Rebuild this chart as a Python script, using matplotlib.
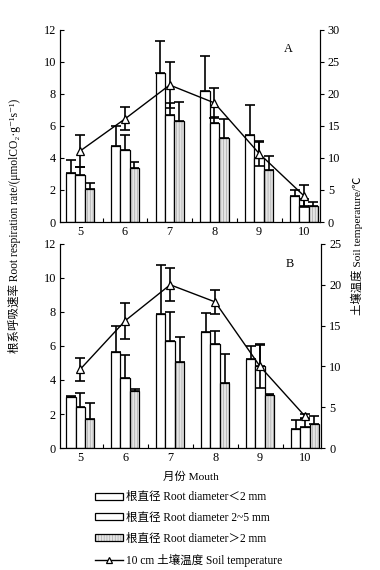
import numpy as np
import matplotlib
matplotlib.use("Agg")
import matplotlib.pyplot as plt
from matplotlib.patches import Patch
from matplotlib.lines import Line2D

plt.rcParams['font.family'] = ['Liberation Serif', 'Noto Sans CJK SC', 'DejaVu Serif']
plt.rcParams['hatch.linewidth'] = 0.5

""" data read off the figure """
months = ['5', '6', '7', '8', '9', '10']

# panel A
a_d1 = [3.05, 4.72, 9.29, 8.18, 5.45, 1.62]
a_d1_err = [0.85, 1.25, 2.0, 2.2, 1.85, 0.37]
a_d2 = [2.92, 4.52, 6.67, 6.2, 4.0, 1.03]
a_d2_err = [0.53, 0.9, 0.78, 0.35, 1.0, 0.4]
a_d3 = [2.05, 3.4, 6.3, 5.24, 3.26, 1.03]
a_d3_err = [0.37, 0.33, 1.17, 1.18, 0.88, 0.24]
a_temp = [11.1, 16.1, 21.4, 18.6, 10.7, 4.1]
a_temp_err = [2.5, 1.8, 3.6, 2.3, 2.0, 1.7]

# panel B
b_d1 = [2.98, 5.67, 7.89, 6.8, 5.21, 1.14]
b_d1_err = [0.1, 1.48, 2.87, 1.13, 0.8, 0.49]
b_d2 = [2.44, 4.09, 6.3, 6.1, 4.8, 1.24]
b_d2_err = [0.78, 1.37, 1.67, 0.76, 1.3, 0.5]
b_d3 = [1.72, 3.37, 5.07, 3.8, 3.11, 1.44]
b_d3_err = [0.91, 0.1, 1.46, 1.72, 0.09, 0.45]
b_temp = [9.65, 15.6, 20.0, 17.9, 10.0, 3.9]
b_temp_err = [1.4, 2.2, 2.0, 1.5, 2.6, 0.3]

labels = ['根直径 Root diameter＜2 mm',
          '根直径 Root diameter 2~5 mm',
          '根直径 Root diameter＞2 mm',
          '10 cm 土壤温度 Soil temperature']

FS = 8.8
W = 0.21
x = np.arange(len(months))
ERR = dict(fmt='none', ecolor='black', elinewidth=1.2, capsize=3.5, capthick=1.2)


def panel(rect, d1, e1, d2, e2, d3, e3, temp, terr, tmax, tticks, letter):
    ax = fig.add_axes(rect)
    ax.bar(x - W, d1, W, color='white', edgecolor='black', lw=0.9, zorder=2)
    ax.bar(x, d2, W, color='white', edgecolor='black', lw=0.9, zorder=2)
    ax.bar(x + W, d3, W, color='#e4e4e4', edgecolor='#a8a8a8', hatch='||||||',
           lw=0, zorder=2)
    ax.bar(x + W, d3, W, fill=False, edgecolor='black', lw=0.9, zorder=3)
    for off, v, e in [(-W, d1, e1), (0, d2, e2), (W, d3, e3)]:
        ax.errorbar(x + off, v, yerr=[np.zeros(len(v)), e], zorder=1, **ERR)
    ax.set_xlim(-0.45, 5.35)
    ax.set_ylim(0, 12)
    ax.set_yticks(range(0, 13, 2))
    ax.set_xticks(x)
    ax.set_xticklabels(months)
    ax.set_xticks(x[:-1] + 0.5, minor=True)
    ax.tick_params(axis='x', which='major', length=0, labelsize=FS, pad=3)
    ax.tick_params(axis='x', which='minor', direction='in', length=3, width=0.8)
    ax.tick_params(axis='y', direction='in', length=3, labelsize=FS, pad=3)
    ax.spines['top'].set_visible(False)
    ax.text(0.88, 0.9, letter, transform=ax.transAxes, fontsize=FS,
            ha='center', va='center')

    ax2 = ax.twinx()
    ax2.errorbar(x, temp, yerr=terr, **ERR)
    ax2.plot(x, temp, color='black', lw=1.0, marker='^', ms=5.5,
             mfc='white', mec='black', mew=0.9)
    ax2.set_ylim(0, tmax)
    ax2.set_yticks(tticks)
    ax2.tick_params(axis='y', direction='out', length=3, labelsize=FS, pad=3)
    ax2.spines['top'].set_visible(False)
    return ax, ax2


fig = plt.figure(figsize=(3.8, 5.7), dpi=100)

panel([0.158, 0.6105, 0.683, 0.337], a_d1, a_d1_err, a_d2, a_d2_err,
      a_d3, a_d3_err, a_temp, a_temp_err, 30, range(0, 31, 5), 'A')
axb, _ = panel([0.158, 0.214, 0.686, 0.358], b_d1, b_d1_err, b_d2, b_d2_err,
               b_d3, b_d3_err, b_temp, b_temp_err, 25, range(0, 26, 5), 'B')
axb.set_xlabel('月份 Mouth', fontsize=8.2, labelpad=5)

fig.text(0.037, 0.603, '根系呼吸速率 Root respiration rate/(μmolCO₂·g⁻¹s⁻¹)',
         rotation=90, ha='center', va='center', fontsize=8.3)
fig.text(0.94, 0.568, '土壤温度 Soil temperature/℃', rotation=90,
         ha='center', va='center', fontsize=8.2)

h1 = Patch(facecolor='white', edgecolor='black', lw=0.9)
h2 = Patch(facecolor='white', edgecolor='black', lw=0.9)
h3 = (Patch(facecolor='#e4e4e4', edgecolor='#a8a8a8', hatch='||||||', lw=0),
      Patch(fill=False, edgecolor='black', lw=0.9))
h4 = Line2D([], [], color='black', lw=1.0, marker='^', ms=5,
            mfc='white', mec='black', mew=0.9)
fig.legend([h1, h2, h3, h4], labels, loc='upper left',
           bbox_to_anchor=(0.25, 0.138), frameon=False, fontsize=8.3,
           handlelength=2.4, handleheight=0.55, handletextpad=0.3,
           labelspacing=0.75, borderpad=0, borderaxespad=0)

fig.savefig('out.png', dpi=100)
